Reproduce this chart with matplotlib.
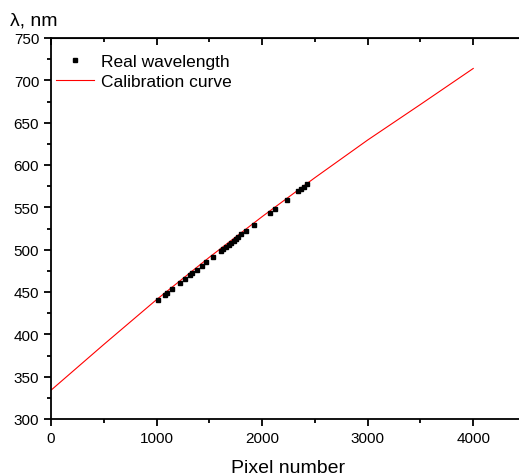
import matplotlib
matplotlib.use("Agg")
import matplotlib.pyplot as plt
from matplotlib.ticker import MultipleLocator

plt.rcParams['font.family'] = ['Liberation Sans', 'DejaVu Sans']

# measured points: pixel number vs real wavelength (nm)
pixel_real = [1016, 1080, 1096, 1143, 1222, 1269, 1317, 1333, 1380, 1427,
              1468, 1532, 1607, 1629, 1657, 1686, 1708, 1730, 1755, 1774,
              1800, 1847, 1923, 2074, 2122, 2238, 2342, 2365, 2396, 2427]
lambda_real = [440.5, 446.8, 448.4, 453.5, 460.6, 465.3, 470.4, 472.1, 476.3, 481.0,
               485.1, 491.7, 498.8, 500.8, 503.7, 506.1, 508.2, 510.6, 513.0, 515.3,
               518.1, 522.4, 529.5, 543.6, 547.6, 558.6, 569.3, 571.3, 574.6, 577.2]

# calibration curve
pixel_curve = [0, 500, 1000, 1500, 2000, 2500, 3000, 3500, 4000]
lambda_curve = [334, 388, 441, 491, 539, 585, 629.5, 671.5, 714]

fig = plt.figure(figsize=(5.19, 4.77), dpi=100)
# right spine falls just outside the picture, like in the original
ax = fig.add_axes([51 / 519, 57 / 477, 475 / 519, 381 / 477])

ax.plot(pixel_real, lambda_real, 's', color='black', ms=2.2, label='Real wavelength', zorder=3)
ax.plot(pixel_curve, lambda_curve, '-', color='red', lw=0.8, label='Calibration curve')

ax.set_xlim(0, 4500)
ax.set_ylim(300, 750)
ax.xaxis.set_major_locator(MultipleLocator(1000))
ax.xaxis.set_minor_locator(MultipleLocator(500))
ax.yaxis.set_major_locator(MultipleLocator(50))
ax.yaxis.set_minor_locator(MultipleLocator(25))

for s in ax.spines.values():
    s.set_linewidth(1.3)
ax.tick_params(which='both', direction='out', width=1.3, labelsize=11, top=False, right=False)
ax.tick_params(which='major', length=5)
ax.tick_params(which='minor', length=3)

# mirrored ticks pointing inward on top and right
ax_top = ax.secondary_xaxis('top')
ax_top.xaxis.set_major_locator(MultipleLocator(1000))
ax_top.xaxis.set_minor_locator(MultipleLocator(500))
ax_top.tick_params(which='both', direction='in', width=1.3, labeltop=False)
ax_top.tick_params(which='major', length=5)
ax_top.tick_params(which='minor', length=3)
ax_right = ax.secondary_yaxis('right')
ax_right.yaxis.set_major_locator(MultipleLocator(50))
ax_right.yaxis.set_minor_locator(MultipleLocator(25))
ax_right.tick_params(which='both', direction='in', width=1.3, labelright=False)
ax_right.tick_params(which='major', length=5)
ax_right.tick_params(which='minor', length=3)

ax.set_xlabel('Pixel number', fontsize=14, labelpad=10)
fig.text(10 / 519, 1 - 21 / 477, 'λ, nm', fontsize=14, va='center', ha='left')

leg = ax.legend(loc='upper left', bbox_to_anchor=(0.0, 0.972), frameon=False, fontsize=12.5,
                handlelength=2.2, handletextpad=0.4, labelspacing=0.26, borderpad=0.3,
                borderaxespad=0.0, markerscale=1.0)

fig.savefig('out.png', dpi=100)
